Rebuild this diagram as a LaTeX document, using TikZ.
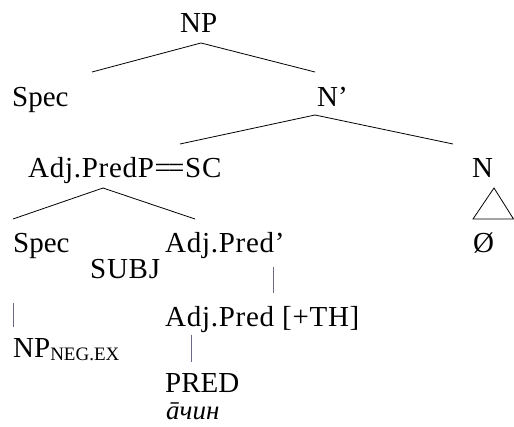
\documentclass[tikz,border=0pt]{standalone}
\usepackage{fontspec}
\setmainfont{Liberation Serif}
\newfontfamily\glossfont{Liberation Serif}
\begin{document}
\begin{tikzpicture}[x=1pt,y=-1pt,
  lbl/.style={anchor=base west,inner sep=0pt,font=\fontsize{29}{29}\selectfont},
  wide/.style={font=\fontsize{29}{29}\selectfont\addfontfeature{LetterSpace=2.5}},
  branch/.style={line width=0.8pt,black},
  bar/.style={line width=0.9pt,draw={rgb,255:red,105;green,105;blue,135}}]
\useasboundingbox (0,0) rectangle (514,427);

% labels of the tree
\node[lbl] (np) at (180,33) {NP};
\node[lbl] (spec1) at (12,107) {Spec};
\node[lbl] (nbar) at (317,107) {N’};
\node[lbl,wide] (sc) at (28,178) {Adj.PredP=\kern-3pt=SC};
\node[lbl] (n) at (472,178) {N};
\node[lbl] (spec2) at (13,253) {Spec};
\node[lbl,wide] (predbar) at (165,253) {Adj.Pred’};
\node[lbl] (empty) at (473,253) {Ø};
\node[lbl,wide] (subj) at (90,279) {SUBJ};
\node[lbl,wide] (pred) at (165,327) {Adj.Pred [+TH]};
\node[lbl] (negex) at (13,358) {NP\raisebox{-3pt}{\fontsize{19}{19}\selectfont NEG.EX}};
\node[lbl] (predhead) at (165,392) {PRED};
\node[anchor=base west,inner sep=0pt,font=\glossfont\itshape\fontsize{27}{27}\selectfont] (gloss) at (166,420) {āчин};

% branch end points
\coordinate (np-f) at (201,43);
\coordinate (spec1-t) at (92,72);
\coordinate (nbar-t) at (315,72);
\coordinate (nbar-f) at (315,115);
\coordinate (sc-t) at (180,144);
\coordinate (n-t) at (453,144);
\coordinate (sc-f) at (103,188);
\coordinate (spec2-t) at (13,219);
\coordinate (predbar-t) at (195,219);
\coordinate (tri-a) at (494,188);
\coordinate (tri-l) at (473,219);
\coordinate (tri-r) at (513.5,219);
\coordinate (predbar-f) at (273,267);
\coordinate (pred-t) at (273,293);
\coordinate (spec2-f) at (13,303);
\coordinate (negex-t) at (13,327);
\coordinate (pred-f) at (191,335);
\coordinate (predhead-t) at (191,362);

% branches
\draw[branch] (spec1-t) -- (np-f) -- (nbar-t);
\draw[branch] (sc-t) -- (nbar-f) -- (n-t);
\draw[branch] (spec2-t) -- (sc-f) -- (predbar-t);
\draw[branch] (tri-a) -- (tri-l) -- (tri-r) -- cycle;
\draw[bar] (predbar-f) -- (pred-t);
\draw[bar] (spec2-f) -- (negex-t);
\draw[bar] (pred-f) -- (predhead-t);
\end{tikzpicture}
\end{document}
